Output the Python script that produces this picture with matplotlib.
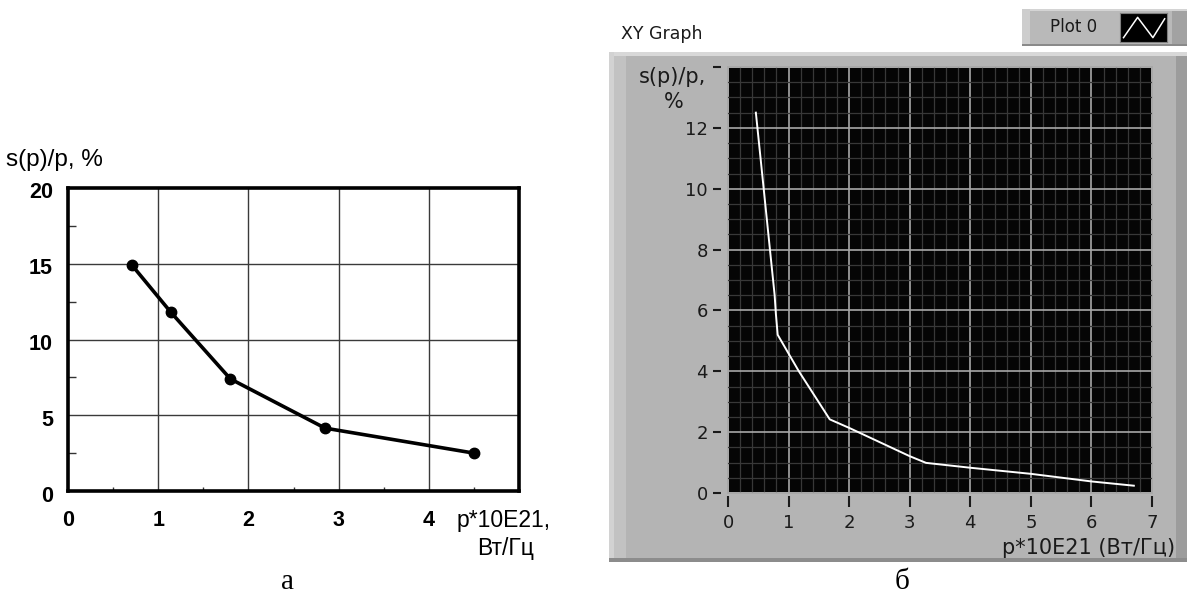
import matplotlib
matplotlib.use("Agg")
import matplotlib.pyplot as plt
import matplotlib.transforms as mtransforms
from matplotlib.patches import Rectangle
from matplotlib.ticker import MultipleLocator

# ---------------- data ----------------
# Chart "а"
a_x = [0.71, 1.14, 1.80, 2.85, 4.50]
a_y = [14.9, 11.8, 7.4, 4.15, 2.5]
a_yticks = [0, 5, 10, 15, 20]
a_yticklabels = ["0", "5", "10", "15", "20"]
a_xticks = [0, 1, 2, 3, 4]
a_xticklabels = ["0", "1", "2", "3", "4"]

# Chart "б" (LabVIEW XY Graph)
b_x = [0.46, 0.77, 0.79, 0.82, 1.17, 1.68, 2.0, 3.0, 3.27, 4.0, 5.0, 6.0, 6.7]
b_y = [12.5, 6.5, 5.9, 5.2, 4.0, 2.42, 2.14, 1.21, 0.99, 0.83, 0.63, 0.38, 0.24]
b_xticks = [0, 1, 2, 3, 4, 5, 6, 7]
b_xticklabels = ["0", "1", "2", "3", "4", "5", "6", "7"]
b_yticks = [0, 2, 4, 6, 8, 10, 12, 14]
b_yticklabels = ["0", "2", "4", "6", "8", "10", "12", ""]

W, H = 1187, 594
fig = plt.figure(figsize=(W / 100, H / 100), dpi=100)
fig.patch.set_facecolor("white")


def rect(x0, y0, x1, y1):
    return [x0 / W, 1 - y1 / H, (x1 - x0) / W, (y1 - y0) / H]


def fx(x):
    return x / W


def fy(y):
    return 1 - y / H


def add_bg(x0, y0, x1, y1, color, z=-10):
    fig.patches.append(Rectangle((fx(x0), fy(y1)), (x1 - x0) / W, (y1 - y0) / H,
                                 transform=fig.transFigure, facecolor=color,
                                 edgecolor="none", zorder=z))


# ================= Chart а =================
SANS = ["Liberation Sans", "DejaVu Sans"]
ax = fig.add_axes(rect(68, 188, 519, 491))
ax.set_xlim(0, 5)
ax.set_ylim(0, 20)
ax.set_facecolor("white")
for s in ax.spines.values():
    s.set_linewidth(2.6)
    s.set_color("black")
for v in [1, 2, 3, 4]:
    ax.axvline(v, color="#3a3a3a", lw=1.0, zorder=1)
for v in [5, 10, 15]:
    ax.axhline(v, color="#3a3a3a", lw=1.0, zorder=1)
ax.set_xticks([])
ax.set_yticks([])
ax.set_xticks([0.5, 1.5, 2.5, 3.5, 4.5], minor=True)
ax.set_yticks([2.5, 7.5, 12.5, 17.5], minor=True)
ax.tick_params(axis="y", which="minor", direction="in", length=6, width=1.0,
               color="#333333")
ax.tick_params(axis="x", which="minor", direction="in", length=3, width=1.0,
               color="#333333")
ax.tick_params(which="minor", labelleft=False, labelbottom=False)

ax.plot(a_x, a_y, color="black", lw=2.6, marker="o", markersize=7.5,
        markerfacecolor="black", markeredgecolor="black", zorder=5, clip_on=False)

off_y = mtransforms.ScaledTranslation(0, -5 / 100, fig.dpi_scale_trans)
for v, lab in zip(a_yticks, a_yticklabels):
    ax.text(-15 / 451, v, lab, transform=ax.get_yaxis_transform() + off_y,
            ha="right", va="center", fontsize=15.5, fontweight="bold", family=SANS)
for v, lab in zip(a_xticks, a_xticklabels):
    ax.text(v, -29 / 303, lab, transform=ax.get_xaxis_transform(),
            ha="center", va="center", fontsize=15.5, fontweight="bold", family=SANS)

fig.text(fx(6), fy(160), "s(p)/p, %", ha="left", va="center", fontsize=17.5,
         family=SANS)
fig.text(fx(457), fy(520), "p*10E21,", ha="left", va="center", fontsize=16.5,
         family=SANS)
fig.text(fx(506), fy(548), "Вт/Гц", ha="center", va="center", fontsize=16.5,
         family=SANS)
fig.text(fx(288), fy(582), "а", ha="center", va="center", fontsize=21,
         family=["Liberation Serif", "DejaVu Serif"])

# ================= Chart б =================
LV = ["DejaVu Sans"]
# panel frame
add_bg(609, 52, 1187, 562, "#b4b4b4")
add_bg(609, 52, 1187, 56, "#d8d8d8")
add_bg(609, 52, 614, 562, "#d2d2d2")
add_bg(614, 56, 626, 558, "#c2c2c2")
add_bg(1176, 56, 1187, 562, "#9c9c9c")
add_bg(609, 558, 1187, 562, "#8c8c8c")

# legend box
add_bg(1022, 9, 1187, 46, "#b9b9b9")
add_bg(1022, 9, 1187, 11, "#d4d4d4")
add_bg(1022, 9, 1030, 46, "#cdcdcd")
add_bg(1022, 44, 1187, 46, "#8a8a8a")
add_bg(1172, 11, 1187, 44, "#a2a2a2")
fig.text(fx(1050), fy(27), "Plot 0", ha="left", va="center", fontsize=12,
         family=LV, color="#1a1a1a")
icon = fig.add_axes(rect(1120, 13, 1167, 42))
icon.set_facecolor("black")
icon.set_xlim(0, 4)
icon.set_ylim(0, 4)
icon.plot([0.3, 1.5, 2.8, 3.8], [0.6, 3.4, 0.6, 3.2], color="white", lw=1.1)
icon.set_xticks([])
icon.set_yticks([])
for s in icon.spines.values():
    s.set_color("#808080")
    s.set_linewidth(0.8)

fig.text(fx(621), fy(34), "XY Graph", ha="left", va="center", fontsize=12.5,
         family=LV, color="#1a1a1a")

bx = fig.add_axes(rect(728, 67, 1152, 493))
bx.set_facecolor("#050505")
bx.set_xlim(0, 7)
bx.set_ylim(0, 14)
bx.xaxis.set_minor_locator(MultipleLocator(0.2))
bx.yaxis.set_minor_locator(MultipleLocator(0.5))
bx.set_xticks(b_xticks)
bx.set_xticklabels(b_xticklabels)
bx.set_yticks(b_yticks)
bx.set_yticklabels(b_yticklabels)
bx.grid(which="minor", color="#383838", lw=0.9)
bx.grid(which="major", color="#a8a8a8", lw=1.2)
bx.set_axisbelow(True)
for name, s in bx.spines.items():
    s.set_visible(False)
bx.spines["left"].set_position(("outward", 5))
bx.spines["bottom"].set_position(("outward", 2))
bx.patch.set_edgecolor("#a8a8a8")
bx.patch.set_linewidth(1.4)
bx.tick_params(which="minor", length=0)
bx.tick_params(axis="y", which="major", direction="out", length=6, width=1.5,
               color="#1a1a1a", pad=3.6, labelsize=13, labelcolor="#1a1a1a")
bx.tick_params(axis="x", which="major", direction="out", length=8, width=1.5,
               color="#1a1a1a", pad=5.0, labelsize=13, labelcolor="#1a1a1a")
for lab in bx.get_xticklabels() + bx.get_yticklabels():
    lab.set_family(LV)

bx.plot(b_x, b_y, color="white", lw=1.4, zorder=5)

fig.text(fx(672), fy(77), "s(p)/p,", ha="center", va="center", fontsize=15,
         family=LV, color="#1a1a1a")
fig.text(fx(674), fy(102), "%", ha="center", va="center", fontsize=15,
         family=LV, color="#1a1a1a")
fig.text(fx(1175), fy(548), "p*10E21 (Вт/Гц)", ha="right", va="center",
         fontsize=15, family=LV, color="#1a1a1a")
fig.text(fx(902), fy(582), "б", ha="center", va="center", fontsize=21,
         family=["Liberation Serif", "DejaVu Serif"])

fig.savefig("out.png", dpi=100, facecolor="white")
